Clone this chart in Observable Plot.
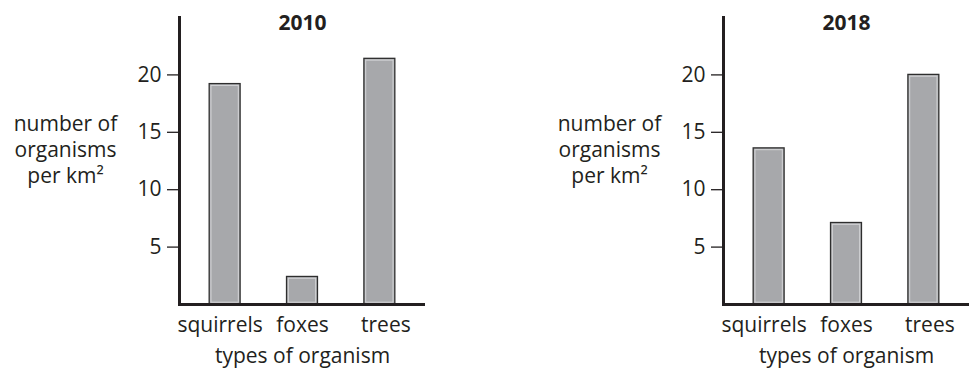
<!DOCTYPE html>
<html><head><meta charset="utf-8">
<script src="https://cdn.jsdelivr.net/npm/d3@7"></script>
<script src="https://cdn.jsdelivr.net/npm/@observablehq/plot@0.6"></script>
<style>
html,body{margin:0;padding:0;background:#fff;}
#wrap{position:relative;width:980px;height:376px;overflow:hidden;}
.panel{position:absolute;top:0;}
</style></head><body><div id="wrap"></div>
<script>
const categories = ["squirrels", "foxes", "trees"];
const titles = ["2010", "2018"];
const values2010 = [19.2, 2.4, 21.4];
const values2018 = [13.6, 7.1, 20.0];
const yTicks = [5, 10, 15, 20];
const yLabel = "number of\norganisms\nper km²";
const xLabel = "types of organism";
const labelShift = [-5, 0, 6];

function panel(title, values, left, marginLeft, marginRight) {
  const data = categories.map((c, i) => ({category: c, value: values[i]}));
  const ink = "#231f20";
  const tickLabels = categories.map((c, i) =>
    Plot.text([c], {x: d => d, text: d => d, frameAnchor: "bottom", dx: labelShift[i], dy: 13, lineAnchor: "top", fontSize: 21})
  );
  const chart = Plot.plot({
    width: 490, height: 376,
    marginLeft, marginRight, marginTop: 17, marginBottom: 72,
    style: {fontFamily: "'Open Sans', sans-serif", fontSize: "21px", color: ink, background: "transparent", overflow: "visible"},
    x: {domain: categories, paddingInner: 0.6, paddingOuter: 0.39, round: false, align: 0.5, axis: null},
    y: {domain: [0, 25]},
    marks: [
      Plot.barY(data, {x: "category", y: "value", fill: "#a7a8ab", stroke: "#2e2e2e", strokeWidth: 1.3}),
      Plot.barY(data, {x: "category", y: "value", fill: "none", stroke: "#d4d5d7", strokeWidth: 1, inset: 1.8}),
      Plot.axisY({ticks: yTicks, tickSize: 12, tickPadding: 6, tickFormat: d => String(d), label: null, fontSize: 21, strokeWidth: 1.3}),
      ...tickLabels,
      Plot.ruleY([0], {stroke: ink, strokeWidth: 3}),
      Plot.frame({anchor: "left", stroke: ink, strokeWidth: 3}),
      Plot.text([title], {text: d => d, frameAnchor: "top", dy: 12, lineAnchor: "bottom", fontWeight: "bold", fontSize: 21}),
      Plot.text([yLabel], {text: d => d, frameAnchor: "left", dx: -114, dy: -12, textAnchor: "middle", lineAnchor: "middle", lineHeight: 1.24, fontSize: 21}),
      Plot.text([xLabel], {text: d => d, frameAnchor: "bottom", dy: 58, lineAnchor: "bottom", fontSize: 21})
    ]
  });
  const div = document.createElement("div");
  div.className = "panel";
  div.style.left = left + "px";
  div.appendChild(chart);
  document.getElementById("wrap").appendChild(div);
}

panel(titles[0], values2010, 0, 179, 65);
panel(titles[1], values2018, 490, 233, 11);
</script>
</body></html>
